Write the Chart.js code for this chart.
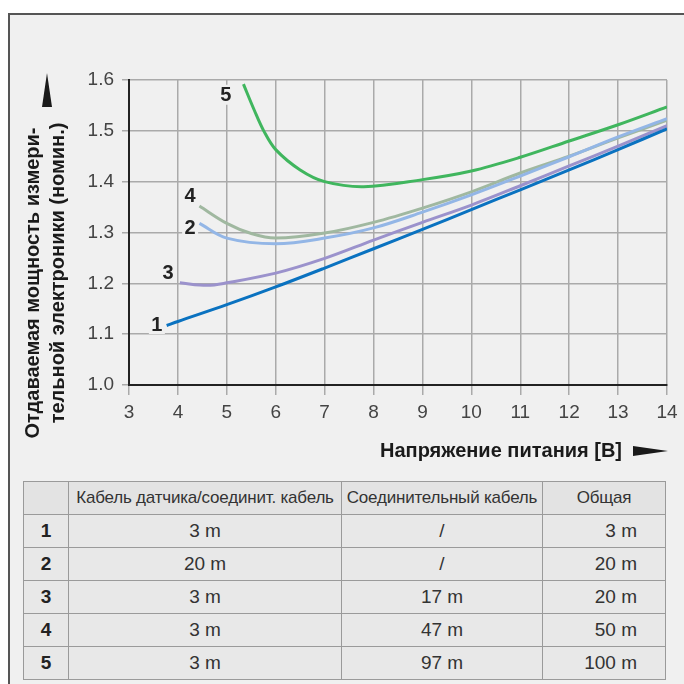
<!DOCTYPE html>
<html>
<head>
<meta charset="utf-8">
<script src="https://cdn.jsdelivr.net/npm/chart.js@4/dist/chart.umd.min.js"></script>
<style>
    html, body { margin: 0; padding: 0; background: #fff; }
    #page { position: relative; width: 684px; height: 684px; overflow: hidden; }
    #frame {
        position: absolute; left: 8px; top: 13px; right: -10px; bottom: -10px;
        background: #f0f0f0; border-left: 2px solid #555; border-top: 2px solid #555;
    }
    #chartCanvas { position: absolute; left: 0; top: 0; }
    #cableTable {
        position: absolute; left: 23px; top: 481px; width: 642px;
        border-collapse: collapse; table-layout: fixed;
        font-family: "Liberation Sans", Arial, sans-serif;
        color: #333; border: 1.5px solid #333;
    }
    #cableTable td, #cableTable th {
        border: 1px solid #9a9a9a; height: 32px; padding: 0; background: #e8e8e8;
        font-size: 19px; font-weight: normal; text-align: center;
    }
    #cableTable th { font-size: 17px; background: #e3e3e3; letter-spacing: -0.2px; }
    #cableTable td.num { font-weight: bold; color: #222; }
    #cableTable td.total { text-align: right; padding-right: 28px; }
</style>
</head>
<body>
<div id="page">
    <div id="frame"></div>
    <canvas id="chartCanvas" width="684" height="470"></canvas>
    <table id="cableTable">
        <colgroup>
            <col style="width:45px"><col style="width:273px"><col style="width:201px"><col style="width:123px">
        </colgroup>
        <thead></thead>
        <tbody></tbody>
    </table>
</div>
<script>
// Кривые: напряжение питания [В] и отдаваемая мощность (номин.)
const voltage1 = [3.77, 4, 5, 6, 7, 8, 9, 10, 11, 12, 13, 14];
const power1   = [1.117, 1.125, 1.158, 1.193, 1.230, 1.268, 1.306, 1.345, 1.384, 1.423, 1.463, 1.504];

const voltage2 = [4.44, 5, 6, 7, 8, 9, 10, 11, 12, 13, 14];
const power2   = [1.318, 1.289, 1.278, 1.289, 1.309, 1.340, 1.374, 1.411, 1.449, 1.488, 1.524];

const voltage3 = [4.04, 4.6, 5, 6, 7, 8, 9, 10, 11, 12, 13, 14];
const power3   = [1.201, 1.196, 1.201, 1.220, 1.249, 1.285, 1.320, 1.354, 1.392, 1.431, 1.470, 1.510];

const voltage4 = [4.44, 5, 5.5, 6, 7, 8, 9, 10, 11, 12, 13, 14];
const power4   = [1.352, 1.318, 1.298, 1.289, 1.299, 1.320, 1.348, 1.380, 1.417, 1.450, 1.486, 1.521];

const voltage5 = [5.34, 5.56, 5.76, 6, 6.5, 7, 7.8, 9, 10, 11, 12, 13, 14];
const power5   = [1.592, 1.541, 1.499, 1.463, 1.423, 1.400, 1.390, 1.404, 1.421, 1.448, 1.480, 1.512, 1.547];

// Номера кривых и их места на графике
const curveNames   = ['1', '2', '3', '4', '5'];
const labelVoltage = [3.57, 4.25, 3.8, 4.25, 4.98];
const labelPower   = [1.12, 1.309, 1.222, 1.372, 1.571];

// Оси
const xTicksMin = 3, xTicksMax = 14;
const yTicksMin = 1.0, yTicksMax = 1.6;

// Таблица
const tableHeader = ['', 'Кабель датчика/соединит. кабель', 'Соединительный кабель', 'Общая'];
const sensorCable = ['3 m', '20 m', '3 m', '3 m', '3 m'];
const connectCable = ['/', '/', '17 m', '47 m', '97 m'];
const totalLength = ['3 m', '20 m', '20 m', '50 m', '100 m'];

const curveColors = ['#0a72c0', '#93b6e6', '#9b92cc', '#a0b8a0', '#40b65e'];

function toPoints(xs, ys) {
    return xs.map((x, i) => ({ x: x, y: ys[i] }));
}

// Подписи осей, стрелки и номера кривых
const annotationsPlugin = {
    id: 'annotations',
    afterDatasetsDraw(chart) {
        const ctx = chart.ctx;
        const xs = chart.scales.x, ys = chart.scales.y;
        ctx.save();

        // номера кривых с подложкой
        ctx.font = 'bold 20px "Liberation Sans", sans-serif';
        ctx.textAlign = 'center';
        ctx.textBaseline = 'middle';
        curveNames.forEach((name, i) => {
            const px = xs.getPixelForValue(labelVoltage[i]);
            const py = ys.getPixelForValue(labelPower[i]);
            ctx.fillStyle = '#f0f0f0';
            ctx.fillRect(px - 8, py - 10, 16, 20);
            ctx.fillStyle = '#222';
            ctx.fillText(name, px, py + 1);
        });

        // подпись оси Y
        ctx.fillStyle = '#1a1a1a';
        ctx.font = 'bold 20px "Liberation Sans", sans-serif';
        ctx.save();
        ctx.translate(33, 283);
        ctx.rotate(-Math.PI / 2);
        ctx.fillText('Отдаваемая мощность измери-', 0, 0);
        ctx.restore();
        ctx.save();
        ctx.translate(58, 273);
        ctx.rotate(-Math.PI / 2);
        ctx.fillText('тельной электроники (номин.)', 0, 0);
        ctx.restore();

        // стрелка вверх
        ctx.beginPath();
        ctx.moveTo(47, 73);
        ctx.lineTo(52, 107);
        ctx.lineTo(42, 107);
        ctx.closePath();
        ctx.fill();

        // подпись оси X
        ctx.font = 'bold 20px "Liberation Sans", sans-serif';
        ctx.textAlign = 'right';
        ctx.fillText('Напряжение питания [В]', 622, 451);

        // стрелка вправо
        ctx.beginPath();
        ctx.moveTo(668, 451);
        ctx.lineTo(633, 446);
        ctx.lineTo(633, 456);
        ctx.closePath();
        ctx.fill();

        ctx.restore();
    }
};

const seriesX = [voltage1, voltage2, voltage3, voltage4, voltage5];
const seriesY = [power1, power2, power3, power4, power5];

new Chart(document.getElementById('chartCanvas').getContext('2d'), {
    type: 'line',
    data: {
        datasets: curveNames.map((name, i) => ({
            label: name,
            data: toPoints(seriesX[i], seriesY[i]),
            borderColor: curveColors[i],
            borderWidth: 3,
            pointRadius: 0,
            fill: false,
            tension: 0.35
        }))
    },
    options: {
        responsive: false,
        animation: false,
        layout: { autoPadding: false, padding: { left: 0, top: 80, right: 17, bottom: 0 } },
        plugins: { legend: { display: false }, tooltip: { enabled: false } },
        scales: {
            x: {
                type: 'linear',
                min: xTicksMin,
                max: xTicksMax,
                afterFit: s => { s.height = 85; },
                ticks: {
                    stepSize: 1,
                    padding: 6,
                    color: '#444',
                    font: { family: '"Liberation Sans", sans-serif', size: 19 }
                },
                grid: { color: '#aaaaaa', lineWidth: 1.5, tickLength: 10 },
                border: { color: '#222', width: 2 }
            },
            y: {
                type: 'linear',
                min: yTicksMin,
                max: yTicksMax,
                afterFit: s => { s.width = 129; },
                ticks: {
                    stepSize: 0.1,
                    padding: 8,
                    color: '#444',
                    font: { family: '"Liberation Sans", sans-serif', size: 19 },
                    callback: v => v.toFixed(1)
                },
                grid: { color: '#aaaaaa', lineWidth: 1.5, tickLength: 7 },
                border: { color: '#222', width: 2 }
            }
        }
    },
    plugins: [annotationsPlugin]
});

// Таблица длин кабелей
const thead = document.querySelector('#cableTable thead');
const headRow = document.createElement('tr');
tableHeader.forEach(text => {
    const th = document.createElement('th');
    th.textContent = text;
    headRow.appendChild(th);
});
thead.appendChild(headRow);

const tbody = document.querySelector('#cableTable tbody');
curveNames.forEach((name, i) => {
    const tr = document.createElement('tr');
    [[name, 'num'], [sensorCable[i], ''], [connectCable[i], ''], [totalLength[i], 'total']].forEach(([text, cls]) => {
        const td = document.createElement('td');
        td.textContent = text;
        if (cls) td.className = cls;
        tr.appendChild(td);
    });
    tbody.appendChild(tr);
});
</script>
</body>
</html>
